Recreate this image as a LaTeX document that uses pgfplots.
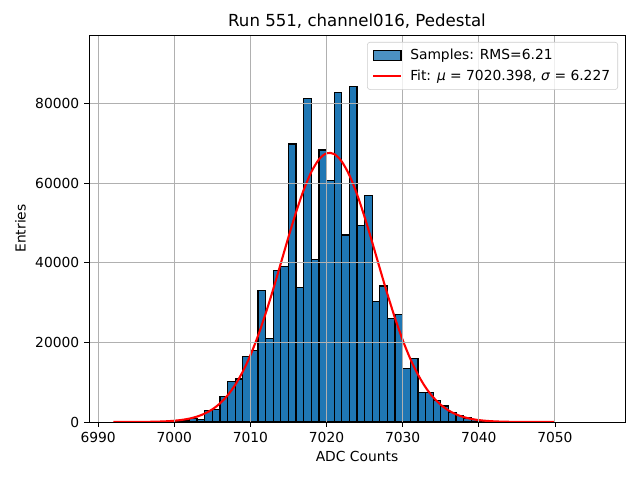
\documentclass[border=0pt]{standalone}
\usepackage{pgfplots}
\pgfplotsset{compat=1.18}
\usepackage{fontspec}
\setmainfont{DejaVu Sans}
\definecolor{mplblue}{RGB}{31,119,180}
\definecolor{gridgray}{RGB}{176,176,176}
\definecolor{legedge}{RGB}{204,204,204}
\begin{document}
\begin{tikzpicture}
\path[use as bounding box] (-0.89in,-0.58in) rectangle (5.51in,4.22in);
\begin{axis}[
  at={(0,0)}, anchor=south west,
  scale only axis, width=5.36in, height=3.87in,
  axis on top,
  xmin=6988.8, xmax=7059.2, ymin=0, ymax=97300,
  xtick={6990,7000,...,7050}, ytick={0,20000,...,80000},
  scaled y ticks=false, scaled x ticks=false,
  /pgf/number format/1000 sep={},
  /pgf/number format/assume math mode=true,
  tick label style={font=\fontsize{10}{12}\selectfont, black},
  label style={font=\fontsize{10}{12}\selectfont},
  xlabel={ADC Counts}, ylabel={Entries},
  title={Run 551, channel016, Pedestal},
  title style={font=\fontsize{12}{14}\selectfont, yshift=-5pt},
  grid=major, major grid style={gridgray, line width=0.7pt},
  axis line style={black, line width=0.6pt},
  tick align=outside, xtick pos=bottom, ytick pos=left,
  major tick length=3.5pt, major tick style={black, line width=0.6pt},
  legend style={at={(0.987,0.982)}, anchor=north east, draw=legedge,
    rounded corners=2pt, fill=white, fill opacity=0.8, text opacity=1,
    font=\fontsize{10}{12}\selectfont, inner xsep=3.5pt, inner ysep=3pt,
    row sep=2pt},
  legend cell align=left,
]
\addplot[ybar interval, fill=mplblue, draw=black, line width=0.9pt,
  legend image code/.code={\draw[sharp corners, fill=mplblue, draw=black, line width=0.9pt] (0pt,-3.5pt) rectangle (20pt,3.5pt); \path (24pt,0pt);}]
coordinates {
(6999,100) (7000,250) (7001,350) (7002,800) (7003,650) (7004,2900)
(7005,3100) (7006,6500) (7007,10200) (7008,10800) (7009,16500)
(7010,18000) (7011,33100) (7012,21000) (7013,38000) (7014,39100)
(7015,69900) (7016,33900) (7017,81400) (7018,40900) (7019,68400)
(7020,60700) (7021,82900) (7022,47000) (7023,84300) (7024,49400)
(7025,56900) (7026,30300) (7027,34200) (7028,26100) (7029,27100)
(7030,13500) (7031,16000) (7032,7500) (7033,7400) (7034,5400)
(7035,4000) (7036,2400) (7037,1700) (7038,1000) (7039,600)
(7040,300) (7041,150) (7042,80) (7043,40) (7044,40)
};
\addlegendentry{Samples: RMS=6.21}
\addplot[red, line width=1.5pt, smooth, mark=none,
  legend image code/.code={\draw[sharp corners, red, line width=1.5pt] (0pt,0pt) -- (20pt,0pt); \path (24pt,0pt);}]
coordinates {
(6992,2) (6993,4) (6994,8.5) (6995,16.5) (6996,31) (6997,58) (6998,105)
(6999,185) (7000,317) (7001,529) (7002,862) (7003,1366) (7004,2113)
(7005,3183) (7006,4675) (7007,6689) (7008,9329) (7009,12680) (7010,16790)
(7011,21680) (7012,27270) (7013,33420) (7014,39940) (7015,46500)
(7016,52760) (7017,58340) (7018,62860) (7019,66010) (7020,67560)
(7021,67380) (7022,65490) (7023,62040) (7024,57270) (7025,51520)
(7026,45170) (7027,38600) (7028,32130) (7029,26080) (7030,20620)
(7031,15890) (7032,11940) (7033,8733) (7034,6230) (7035,4330)
(7036,2933) (7037,1937) (7038,1246) (7039,781) (7040,478) (7041,284)
(7042,165) (7043,93) (7044,51) (7045,28) (7046,14) (7047,7) (7048,3)
(7049,1.5) (7050,0.7)
};
\addlegendentry{Fit: \textit{μ} = 7020.398, \textit{σ} = 6.227}
\end{axis}
\end{tikzpicture}
\end{document}
